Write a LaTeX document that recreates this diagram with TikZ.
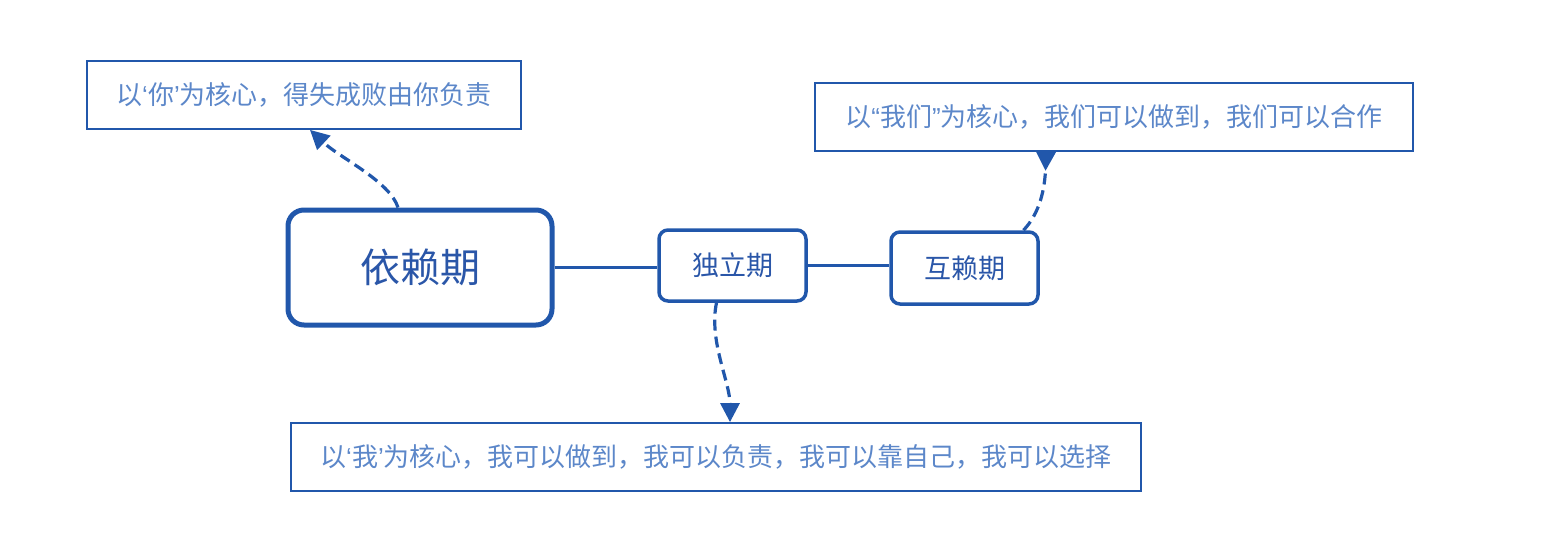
\documentclass[tikz,border=0pt]{standalone}
\usepackage{fontspec}
\newfontfamily\cjk{Noto Sans CJK SC}
\newfontfamily\yinhao{Liberation Sans}
\usepackage{tikz}
\usetikzlibrary{arrows.meta,calc}

\definecolor{bianlan}{HTML}{2157AB}
\definecolor{zilan}{HTML}{2A56A8}
\definecolor{qianlan}{HTML}{5C87C9}

% 窄引号
\newcommand{\zuoyin}{{\yinhao ‘}}
\newcommand{\youyin}{{\yinhao ’}}
\newcommand{\zuoshuang}{{\yinhao “}}
\newcommand{\youshuang}{{\yinhao ”}}

\begin{document}
\begin{tikzpicture}[x=1pt,y=-1pt,
  jieduan/.style={draw=bianlan,rounded corners=9pt,line width=3.5pt,
    text=zilan,font=\cjk\fontsize{27}{31}\selectfont,
    minimum width=147pt,minimum height=71pt,inner sep=0pt},
  shuoming/.style={draw=bianlan,line width=1.8pt,text=qianlan,
    font=\cjk\fontsize{26}{30}\selectfont,minimum height=68pt,inner sep=0pt},
  lianxian/.style={draw=bianlan,line width=3.2pt},
  xujian/.style={draw=bianlan,line width=3.2pt,dash pattern=on 11pt off 6pt,
    -{Triangle[length=19pt,width=19pt]}}]

% 画布大小
\useasboundingbox (0,0) rectangle (1548,552);

% 三个阶段
\node[jieduan,minimum width=264pt,minimum height=115pt,rounded corners=16pt,
  line width=5pt,font=\cjk\fontsize{40}{46}\selectfont] (yilai) at (420,267.5) {依赖期};
\node[jieduan] (duli) at (732.5,265.5) {独立期};
\node[jieduan,minimum height=72pt] (hulai) at (964.5,268) {互赖期};

% 说明框
\node[shuoming,minimum width=434pt] (niA) at (304,95) {以\zuoyin 你\youyin 为核心，得失成败由你负责};
\node[shuoming,minimum width=598pt] (womenB) at (1114,117) {以\zuoshuang 我们\youshuang 为核心，我们可以做到，我们可以合作};
\node[shuoming,minimum width=850pt] (woC) at (716,457) {以\zuoyin 我\youyin 为核心，我可以做到，我可以负责，我可以靠自己，我可以选择};

% 阶段之间的连线
\draw[lianxian] (yilai.east) -- (yilai.east -| duli.west);
\draw[lianxian] (duli.east) -- (duli.east -| hulai.west);

% 虚线箭头
\draw[xujian] ([xshift=-22pt]yilai.north) .. controls ++(-8,-26) and ++(30,28) .. ([xshift=6pt]niA.south);
\draw[xujian] ([xshift=-16pt]duli.south) .. controls ++(-8,38) and ++(0,-40) .. ([xshift=14pt]woC.north);
\draw[xujian,-{Triangle[length=19pt,width=19pt,reversed]}]
  ([xshift=59pt]hulai.north) .. controls ++(16,-17) and ++(-1,38) .. ([xshift=-68pt]womenB.south);

\end{tikzpicture}
\end{document}
